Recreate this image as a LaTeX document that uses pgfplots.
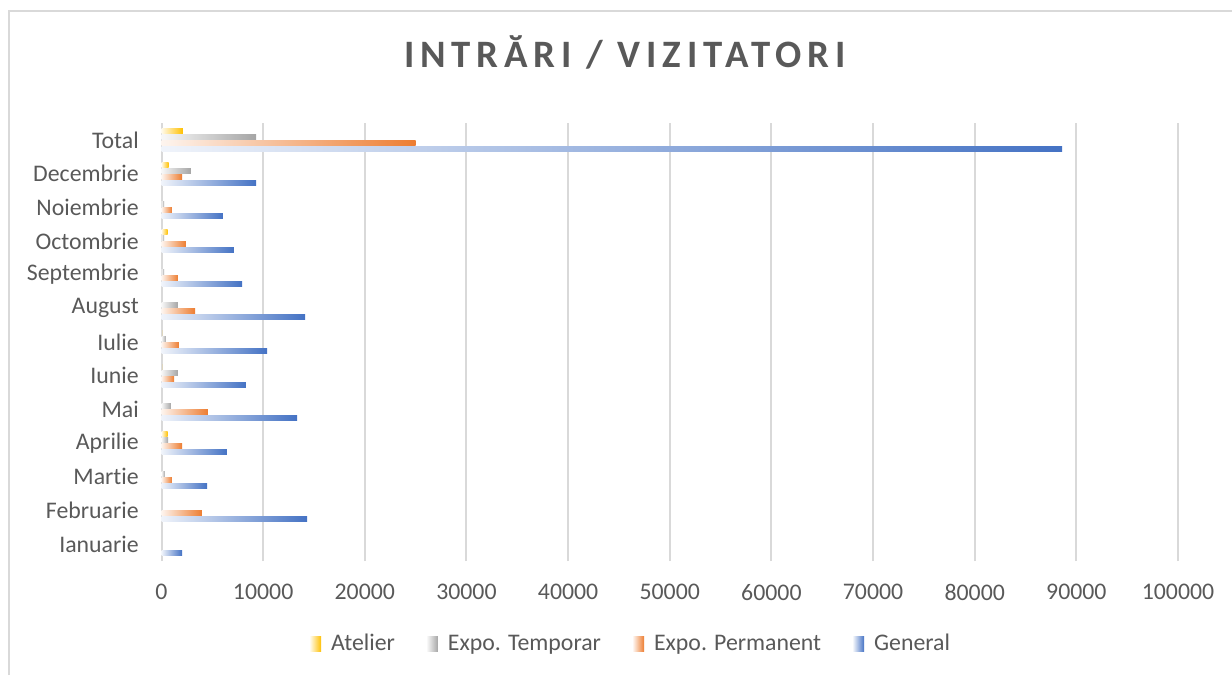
\documentclass[border=0pt]{standalone}
\usepackage{pgfplots}
\usepackage{pgfplotstable}
\pgfplotsset{compat=1.18}
\usepackage{fontspec}
\setmainfont{Carlito}[Ligatures={NoCommon,NoContextual}]

\definecolor{cAtel}{HTML}{FFC000}
\definecolor{cTemp}{HTML}{A5A5A5}
\definecolor{cPerm}{HTML}{ED7D31}
\definecolor{cGen}{HTML}{4472C4}
\definecolor{txt}{HTML}{595959}
\definecolor{grd}{HTML}{D9D9D9}

% luni: 0 = Ianuarie ... 11 = Decembrie, 12 = Total
\pgfplotstableread{
y  atelier temporar permanent general
0  0       0        0         2020
1  0       0        3980      14320
2  0       340      1030      4480
3  600     640      2020      6440
4  0       930      4570      13330
5  50      1620     1230      8310
6  50      440      1720      10380
7  0       1620     3300      14120
8  0       250      1620      7920
9  600     250      2410      7130
10 0       250      1030      6050
11 700     2900     2020      9300
12 2100    9300     25000     88600
}\vizitatori

\pgfplotsset{
  gradbar/.style={xbar, draw=none, left color=#1!8, right color=#1, forget plot,
    restrict x to domain=1:1000000},
  gradleg/.style={draw=none, legend image code/.code={\shade[draw=none, left color=#1!8, right color=#1] (0pt,-3.75pt) rectangle (5.5pt,3.75pt);}},
}

\begin{document}
\begin{tikzpicture}
\path[use as bounding box] (0,0) rectangle (616pt,337.5pt);
\draw[grd, line width=1pt] (4.25pt,0) -- (4.25pt,332pt) -- (616pt,332pt);
\node[anchor=base, font=\fontsize{19.4}{23}\selectfont\bfseries\addfontfeatures{LetterSpace=15}, text=txt]
  at (312.5pt,303.5pt) {INTRĂRI / VIZITATORI};
\begin{axis}[
  at={(80.75pt,57pt)}, anchor=south west,
  scale only axis, width=508.25pt, height=219pt,
  xbar, bar width=2.5pt,
  xmin=0, xmax=100000, xtick={0,10000,...,100000},
  ymin=-0.5, ymax=12.5, ytick={0,...,12},
  yticklabels={Ianuarie,Februarie,Martie,Aprilie,Mai,Iunie,Iulie,August,Septembrie,Octombrie,Noiembrie,Decembrie,Total},
  scaled x ticks=false,
  xticklabel={\pgfmathprintnumber[fixed, precision=0, 1000 sep={}, assume math mode=true]{\tick}},
  axis line style={draw=none},
  major tick length=0pt,
  xmajorgrids, major grid style={grd, line width=1pt},
  extra x ticks={0}, extra x tick labels={},
  extra x tick style={grid style={grd, line width=2pt}},
  tick label style={font=\fontsize{11.9}{14}\selectfont, text=txt},
  xticklabel style={yshift=-8pt},
  yticklabel style={xshift=-7.85pt},
  legend columns=-1,
  legend style={at={(0.463,-0.1895)}, anchor=center, draw=none,
    font=\fontsize{11.9}{14}\selectfont, text=txt,
    /tikz/every odd column/.append style={column sep=3pt},
    /tikz/every even column/.append style={column sep=14pt}},
]
\addlegendimage{gradleg=cAtel}
\addlegendimage{gradleg=cTemp}
\addlegendimage{gradleg=cPerm}
\addlegendimage{gradleg=cGen}
% one plot per bar, so that every bar gets its own gradient
\pgfplotsinvokeforeach{0,...,12}{
  \addplot[gradbar=cAtel, bar shift=4.5pt, restrict y to domain=#1:#1] table[x=atelier, y=y] {\vizitatori};
  \addplot[gradbar=cTemp, bar shift=1.5pt, restrict y to domain=#1:#1] table[x=temporar, y=y] {\vizitatori};
  \addplot[gradbar=cPerm, bar shift=-1.5pt, restrict y to domain=#1:#1] table[x=permanent, y=y] {\vizitatori};
  \addplot[gradbar=cGen, bar shift=-4.5pt, restrict y to domain=#1:#1] table[x=general, y=y] {\vizitatori};
}
\legend{Atelier,Expo. Temporar,Expo. Permanent,General}
\end{axis}
\end{tikzpicture}
\end{document}
